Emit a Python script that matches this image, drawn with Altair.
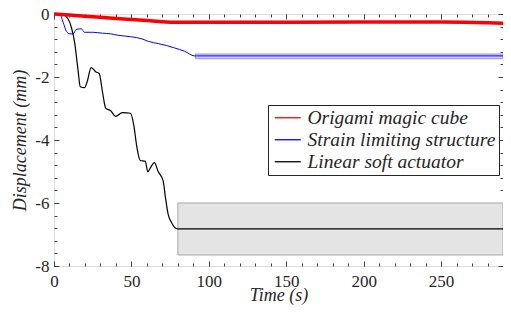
import altair as alt
import pandas as pd

# ---- data ----
series_names = ["Origami magic cube", "Strain limiting structure", "Linear soft actuator"]

red_t = [0, 10, 20, 30, 40, 50, 60, 70, 75, 100, 150, 200, 250, 265, 280, 290]
red_v = [0, -0.035, -0.07, -0.105, -0.14, -0.175, -0.21, -0.245, -0.26, -0.26, -0.26,
         -0.255, -0.255, -0.26, -0.28, -0.29]

blue_t = [0, 3.8, 5.9, 8.1, 10.2, 12.3, 14.4, 17.6, 19.7, 25, 31.4, 36.6, 41.9, 49.4,
          56.8, 61, 67.4, 72.6, 78, 84.3, 90.7, 290]
blue_v = [0, 0, -0.26, -0.56, -0.63, -0.63, -0.49, -0.47, -0.58, -0.58, -0.61, -0.63,
          -0.68, -0.72, -0.79, -0.87, -0.94, -1.0, -1.08, -1.18, -1.33, -1.33]

black_t = [0, 4.9, 9.1, 11.2, 13.3, 15.4, 17.0, 19.7, 21.4, 24.0, 27.1, 29.2, 31.4, 33.4,
           36.6, 39.8, 44.1, 49.4, 51.5, 53.6, 55.7, 58.9, 60.6, 62.1, 64.8, 67.3, 70.5,
           72.0, 73.7, 75.8, 79.7, 290]
black_v = [0, 0, -0.16, -0.42, -0.89, -1.73, -2.31, -2.34, -2.15, -1.70, -1.84, -1.89,
           -2.5, -2.99, -3.07, -3.25, -3.13, -3.15, -3.52, -4.25, -4.65, -4.67, -5.01,
           -4.90, -4.72, -5.0, -5.30, -5.83, -6.35, -6.61, -6.82, -6.82]

# bands (start, end, low, high)
blue_band = [91.3, 290, -1.42, -1.27]
black_band = [80, 290, -7.65, -6.0]

x_major = [0, 50, 100, 150, 200, 250]
x_minor = list(range(0, 291, 10))
y_major = [0, -2, -4, -6, -8]
y_minor = [round(-0.4 * i, 1) for i in range(0, 21)]

# ---- tables ----
lines = pd.concat([
    pd.DataFrame({"t": red_t, "v": red_v, "series": series_names[0]}),
    pd.DataFrame({"t": blue_t, "v": blue_v, "series": series_names[1]}),
    pd.DataFrame({"t": black_t, "v": black_v, "series": series_names[2]}),
])
bband = pd.DataFrame({"t0": [black_band[0]], "t1": [black_band[1]],
                      "lo": [black_band[2]], "hi": [black_band[3]]})
lband = pd.DataFrame({"t0": [blue_band[0]], "t1": [blue_band[1]],
                      "lo": [blue_band[2]], "hi": [blue_band[3]]})

XS = alt.Scale(domain=[0, 290], nice=False, zero=False)
YS = alt.Scale(domain=[-8, 0], nice=False, zero=False)
AX = "#404040"
TXT = "#262626"
FONT = "Liberation Serif"


def tick_axis(orient, values, size, offset):
    return alt.Axis(orient=orient, values=values, tickSize=size, offset=offset,
                    labels=False, domain=False, grid=False, title="",
                    tickColor=AX, tickWidth=1)


color = alt.Color(
    "series:N",
    scale=alt.Scale(domain=series_names, range=["#ff0000", "#0000ff", "#000000"]),
    legend=alt.Legend(
        title=None, orient="none", legendX=214, legendY=91,
        labelFont=FONT, labelFontSize=19.5, labelFontStyle="italic", labelColor=TXT,
        labelLimit=400,
        symbolType="M-2,0H2", symbolSize=169, symbolStrokeWidth=1.3,
        symbolOffset=7, labelOffset=10,
        padding=3, rowPadding=1, strokeColor=TXT, fillColor="white",
        cornerRadius=0,
    ),
)

# layer 1: black band + axis labels/titles
l1 = alt.Chart(bband).mark_rect(fill="#e4e4e4", stroke="#a8a8a8", strokeWidth=1).encode(
    x=alt.X("t0:Q", scale=XS, axis=alt.Axis(
        orient="bottom", values=x_major, ticks=False, tickSize=0, domain=False, grid=False,
        labelFont=FONT, labelFontSize=17, labelColor=TXT, labelPadding=7, labelFlush=False,
        title="Time (s)", titleFont=FONT, titleFontSize=18, titleFontStyle="italic",
        titleFontWeight="normal", titleColor=TXT, titleY=34, titleBaseline="alphabetic")),
    x2="t1:Q",
    y=alt.Y("lo:Q", scale=YS, axis=alt.Axis(
        orient="left", values=y_major, ticks=False, tickSize=0, domain=False, grid=False,
        labelFont=FONT, labelFontSize=17, labelColor=TXT, labelPadding=5, labelFlush=False,
        labelExpr="'' + datum.value",
        title="Displacement (mm)", titleFont=FONT, titleFontSize=18, titleFontStyle="italic",
        titleFontWeight="normal", titleColor=TXT, titleX=-29, titleBaseline="alphabetic")),
    y2="hi:Q",
)

# layer 2: blue band + major ticks bottom/left
l2 = alt.Chart(lband).mark_rect(fill="#d4d4ff", stroke="#9090ff", strokeWidth=1).encode(
    x=alt.X("t0:Q", scale=XS, axis=tick_axis("bottom", x_major, 5, -5)),
    x2="t1:Q",
    y=alt.Y("lo:Q", scale=YS, axis=tick_axis("left", y_major, 5, -5)),
    y2="hi:Q",
)

# layer 3: black line + minor ticks bottom/left
l3 = alt.Chart(lines).transform_filter(alt.datum.series == series_names[2]).mark_line(
    strokeWidth=1.2, interpolate="monotone").encode(
    x=alt.X("t:Q", scale=XS, axis=tick_axis("bottom", x_minor, 3, -3)),
    y=alt.Y("v:Q", scale=YS, axis=tick_axis("left", y_minor, 3, -3)),
    color=color,
)

# layer 4: blue line + major ticks top/right
l4 = alt.Chart(lines).transform_filter(alt.datum.series == series_names[1]).mark_line(
    strokeWidth=1, interpolate="monotone").encode(
    x=alt.X("t:Q", scale=XS, axis=tick_axis("top", x_major, 5, -5)),
    y=alt.Y("v:Q", scale=YS, axis=tick_axis("right", y_major, 5, -5)),
    color=color,
)

# layer 5: red line + minor ticks top/right
l5 = alt.Chart(lines).transform_filter(alt.datum.series == series_names[0]).mark_line(
    strokeWidth=3.5).encode(
    x=alt.X("t:Q", scale=XS, axis=tick_axis("top", x_minor, 3, -3)),
    y=alt.Y("v:Q", scale=YS, axis=tick_axis("right", y_minor, 3, -3)),
    color=color,
)

chart = alt.layer(l1, l2, l3, l4, l5).resolve_axis(
    x="independent", y="independent"
).properties(
    width=449, height=252,
    autosize=alt.AutoSizeParams(type="none"),
    padding={"left": 46, "top": 6, "right": 0, "bottom": 40},
).configure_view(stroke=AX, strokeWidth=1).configure(background="white")

chart.save("out.html", embed_options={"renderer": "svg", "actions": False})
